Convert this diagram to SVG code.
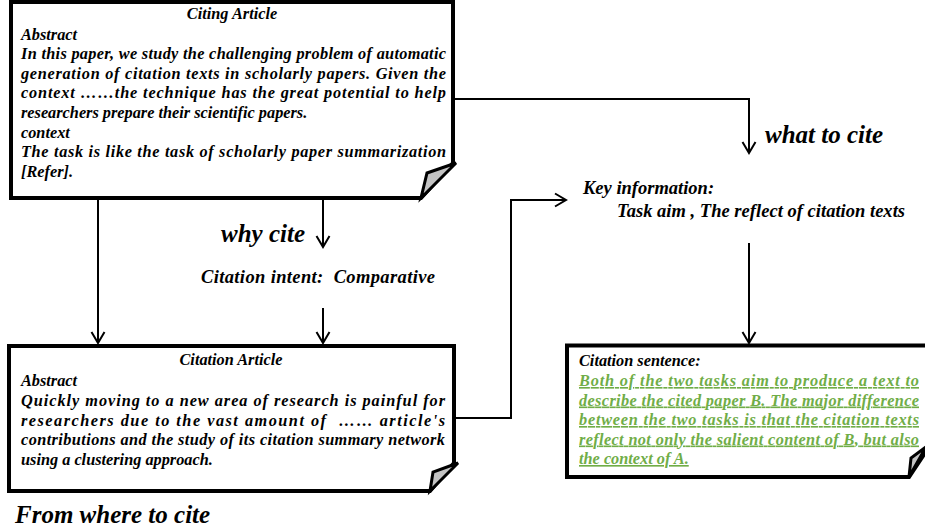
<svg xmlns="http://www.w3.org/2000/svg" width="925" height="531" viewBox="0 0 925 531">
<style>
.t { font-family: "Liberation Serif", "Times New Roman", serif; font-weight: bold; font-style: italic; font-size: 16.3px; fill: #000; white-space: pre; }
.lbl { font-size: 25px; }
.mid { font-size: 18.5px; }
.g { fill: #70AD47; text-decoration: underline; }
.box { fill: #fff; stroke: #000; stroke-width: 4; stroke-linejoin: miter; }
.fold { fill: #c4c4c4; stroke: #000; stroke-width: 3; stroke-linejoin: miter; }
.c { fill: none; stroke: #000; stroke-width: 2; marker-end: url(#arr); }
</style>
<defs>
<marker id="arr" markerUnits="userSpaceOnUse" markerWidth="14" markerHeight="16" viewBox="0 0 14 16" refX="12" refY="8" orient="auto">
<path d="M1,1.5 L12,8 L1,14.5" fill="none" stroke="#000" stroke-width="2"/>
</marker>
</defs>
<rect width="925" height="531" fill="#fff"/>

<g id="connectors">
<path class="c" d="M455,99 H749 V153"/>
<path class="c" d="M98,200 V343"/>
<path class="c" d="M323,200 V247"/>
<path class="c" d="M323,308 V343"/>
<path class="c" d="M455,418 H511 V200 H566"/>
<path class="c" d="M749,243 V343"/>
</g>

<g id="citing-article">
<path class="box" d="M11,2 H453 V163 L421,198 H11 Z"/>
<polygon class="fold" points="456,163 427,173 421,198"/>
<text class="t" x="232" y="19" text-anchor="middle">Citing Article</text>
<text class="t" x="21" y="39.5">Abstract</text>
<text class="t" x="21" y="59.1" textLength="425" lengthAdjust="spacing">In this paper, we study the challenging problem of automatic</text>
<text class="t" x="21" y="78.7" textLength="425" lengthAdjust="spacing">generation of citation texts in scholarly papers. Given the</text>
<text class="t" x="21" y="98.3" textLength="425" lengthAdjust="spacing">context ……the technique has the great potential to help</text>
<text class="t" x="21" y="117.9">researchers prepare their scientific papers.</text>
<text class="t" x="21" y="137.5">context</text>
<text class="t" x="21" y="157.1" textLength="425" lengthAdjust="spacing">The task is like the task of scholarly paper summarization</text>
<text class="t" x="21" y="176.7">[Refer].</text>
</g>

<g id="why-cite">
<text class="t lbl" x="221" y="242">why cite</text>
</g>

<g id="citation-intent">
<text class="t mid" x="201" y="283" textLength="234" lengthAdjust="spacing">Citation intent:  Comparative</text>
</g>

<g id="what-to-cite">
<text class="t lbl" x="765" y="143">what to cite</text>
</g>

<g id="key-information">
<text class="t mid" x="583" y="194">Key information:</text>
<text class="t mid" x="617" y="217" textLength="288" lengthAdjust="spacing">Task aim , The reflect of citation texts</text>
</g>

<g id="citation-article">
<path class="box" d="M9,346 H454 V463 L430,491 H9 Z"/>
<polygon class="fold" points="458,463 433,472 430,491"/>
<text class="t" x="231" y="365" text-anchor="middle">Citation Article</text>
<text class="t" x="21" y="386">Abstract</text>
<text class="t" x="21" y="406" textLength="424" lengthAdjust="spacing">Quickly moving to a new area of research is painful for</text>
<text class="t" x="21" y="425.5" textLength="424" lengthAdjust="spacing">researchers due to the vast amount of  …… article's</text>
<text class="t" x="21" y="445" textLength="424" lengthAdjust="spacing">contributions and the study of its citation summary network</text>
<text class="t" x="21" y="464.5">using a clustering approach.</text>
</g>

<g id="from-where-to-cite">
<text class="t lbl" x="15" y="523">From where to cite</text>
</g>

<g id="citation-sentence">
<path class="box" d="M567,345.5 H929 V447 L909,477 H567 Z"/>
<polygon class="fold" points="926,447 911,458 909,477"/>
<text class="t" x="579" y="366">Citation sentence:</text>
<text class="t g" x="579" y="386" textLength="340" lengthAdjust="spacing">Both of the two tasks aim to produce a text to</text>
<text class="t g" x="579" y="405.5" textLength="340" lengthAdjust="spacing">describe the cited paper B. The major difference</text>
<text class="t g" x="579" y="425" textLength="340" lengthAdjust="spacing">between the two tasks is that the citation texts</text>
<text class="t g" x="579" y="444.5" textLength="340" lengthAdjust="spacing">reflect not only the salient content of B, but also</text>
<text class="t g" x="579" y="464">the context of A.</text>
</g>
</svg>
